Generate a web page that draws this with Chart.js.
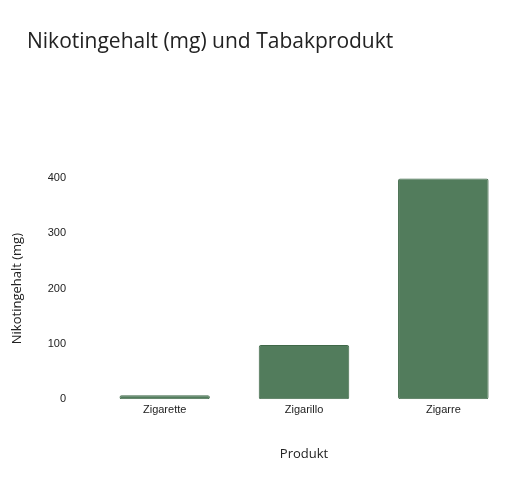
<!DOCTYPE html>
<html><head><meta charset="utf-8">
<script src="https://cdn.jsdelivr.net/npm/chart.js@4/dist/chart.umd.min.js"></script>
<style>html,body{margin:0;padding:0;background:#fff}#wrap{width:517px;height:491px}</style>
</head><body><div id="wrap"><canvas id="c"></canvas></div>
<script>
const categories = ["Zigarette", "Zigarillo", "Zigarre"];
const nicotineMg = [7, 98, 399];
const yTicks = [0, 100, 200, 300, 400];
const chartTitle = 'Nikotingehalt (mg) und Tabakprodukt';

const titlePlugin = {
  id: 'leftTitle',
  afterDraw(chart) {
    const ctx = chart.ctx;
    ctx.save();
    ctx.font = 'normal 21px "Open Sans"';
    ctx.fillStyle = '#222';
    ctx.textAlign = 'left';
    ctx.textBaseline = 'alphabetic';
    ctx.fillText(chartTitle, 27, 48);
    ctx.restore();
  }
};

new Chart(document.getElementById('c'), {
  type: 'bar',
  data: {
    labels: categories,
    datasets: [{
      label: 'Nikotingehalt (mg)',
      data: nicotineMg,
      backgroundColor: '#527c5c',
      borderColor: '#3f6848',
      borderWidth: 1,
      borderRadius: 2,
      borderSkipped: false,
      categoryPercentage: 0.65,
      barPercentage: 1.0
    }]
  },
  plugins: [titlePlugin],
  options: {
    responsive: true,
    maintainAspectRatio: false,
    animation: false,
    layout: { padding: { top: 178, right: 4, left: 5, bottom: 25 } },
    plugins: {
      legend: { display: false },
      tooltip: { enabled: false },
      title: { display: false }
    },
    scales: {
      x: {
        grid: { display: false, drawTicks: false },
        border: { display: false },
        ticks: { color: '#222', font: { family: 'Liberation Sans', size: 11 }, padding: 4 },
        title: { display: true, text: 'Produkt', color: '#222', font: { family: 'Open Sans', size: 13 }, padding: { top: 26 } }
      },
      y: {
        min: 0, max: 400,
        afterBuildTicks: (axis) => { axis.ticks = yTicks.map(v => ({ value: v })); },
        afterFit: (axis) => { axis.width = 90; },
        grid: { display: false, drawTicks: false },
        border: { display: false },
        ticks: { color: '#222', font: { family: 'Liberation Sans', size: 11 }, padding: 29 },
        title: { display: true, text: 'Nikotingehalt (mg)', color: '#222', font: { family: 'Open Sans', size: 13 }, padding: { top: 4, bottom: 10 } }
      }
    }
  }
});
</script></body></html>
